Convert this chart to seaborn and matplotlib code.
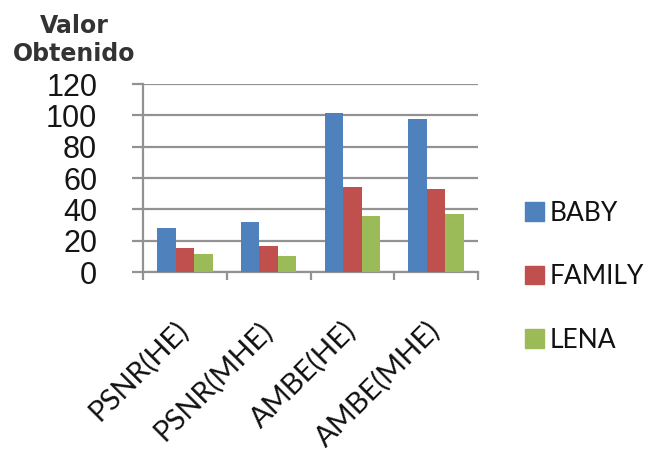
import matplotlib
matplotlib.use("Agg")
import matplotlib.pyplot as plt
import matplotlib.transforms as mtransforms
import seaborn as sns
import pandas as pd

# Metric results per test image
metrics = ["PSNR(HE)", "PSNR(MHE)", "AMBE(HE)", "AMBE(MHE)"]
baby = [28, 32, 101.5, 97.5]
family = [15, 16.5, 54, 53]
lena = [11.5, 10, 36, 37]
series_names = ["BABY", "FAMILY", "LENA"]
y_ticks = [0, 20, 40, 60, 80, 100, 120]

colors = ["#4F81BD", "#C0504D", "#9BBB59"]
grid_gray = "#929292"

df = pd.DataFrame({
    "metric": metrics * 3,
    "valor": baby + family + lena,
    "imagen": [s for s in series_names for _ in metrics],
})

sns.set_theme(style="white")
plt.rcParams["font.family"] = ["Lato", "DejaVu Sans"]

fig = plt.figure(figsize=(6.55, 4.61), dpi=100)
ax = fig.add_axes([143 / 655, 1 - 272 / 461, (478 - 143) / 655, (272 - 84) / 461])

sns.barplot(data=df, x="metric", y="valor", hue="imagen", order=metrics,
            hue_order=series_names, palette=colors, saturation=1,
            width=0.66, linewidth=0, ax=ax, legend=False, zorder=3)

ax.set_ylim(0, 120)
ax.set_xlim(-0.5, 3.5)
ax.set_yticks(y_ticks)
ax.yaxis.grid(True, color=grid_gray, linewidth=1.6, zorder=0)
ax.set_axisbelow(True)

for side in ["top", "right"]:
    ax.spines[side].set_visible(False)
for side in ["left", "bottom"]:
    ax.spines[side].set_color(grid_gray)
    ax.spines[side].set_linewidth(1.6)

ax.tick_params(axis="y", direction="out", length=8, width=1.6, color=grid_gray,
               pad=25, left=True)
for lab in ax.get_yticklabels():
    lab.set_family(["Liberation Sans", "DejaVu Sans"])
    lab.set_fontsize(22)
    lab.set_color("#151515")

# category boundary ticks on the x axis
ax.set_xticks([i - 0.5 for i in range(len(metrics) + 1)], minor=True)
ax.tick_params(axis="x", which="minor", direction="out", length=6, width=1.6,
               color=grid_gray, bottom=True)
ax.tick_params(axis="x", which="major", length=0, pad=32)
ax.set_xticks(range(len(metrics)))
ax.set_xticklabels(metrics, rotation=45, ha="right", va="top", fontsize=21,
                   color="#111111")
shift = mtransforms.ScaledTranslation(9 / 100, 0, fig.dpi_scale_trans)
for lab in ax.get_xticklabels():
    lab.set_transform(lab.get_transform() + shift)
ax.set_xlabel("")
ax.set_ylabel("")

fig.text(74 / 655, 1 - 40 / 461, "Valor\nObtenido", ha="center", va="center",
         fontsize=17, fontweight="bold", family="DejaVu Sans", color="#333333",
         linespacing=1.25)

handles = [plt.Rectangle((0, 0), 1, 1, color=c) for c in colors]
fig.legend(handles, series_names, loc="upper left",
           bbox_to_anchor=(525 / 655, 1 - 201 / 461), frameon=False,
           fontsize=19, handlelength=0.72, handleheight=0.72,
           handletextpad=0.2, labelspacing=1.45, borderpad=0,
           borderaxespad=0, labelcolor="#111111")

fig.savefig("out.png", dpi=100)
